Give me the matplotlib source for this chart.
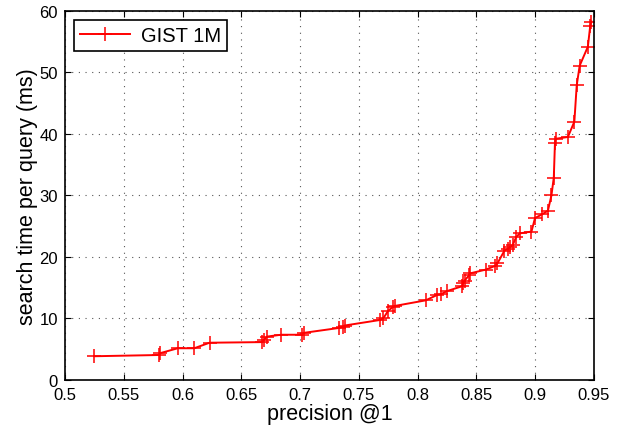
import matplotlib
matplotlib.use("Agg")
import matplotlib.pyplot as plt

plt.rcParams['font.family'] = ['Liberation Sans', 'DejaVu Sans']

precision = [0.525, 0.580, 0.581, 0.596, 0.610, 0.623, 0.668, 0.669, 0.672, 0.684,
             0.702, 0.703, 0.733, 0.737, 0.738, 0.768, 0.771, 0.775, 0.779, 0.781,
             0.807, 0.817, 0.820, 0.825, 0.838, 0.839, 0.840, 0.844, 0.845, 0.858,
             0.866, 0.868, 0.874, 0.877, 0.879, 0.881, 0.884, 0.887, 0.897, 0.900,
             0.906, 0.911, 0.914, 0.916, 0.917, 0.9175, 0.928, 0.9335, 0.9355, 0.938,
             0.945, 0.947, 0.948]
search_time = [3.8, 4.0, 4.3, 5.1, 5.1, 6.0, 6.1, 6.4, 7.0, 7.3,
               7.3, 7.6, 8.4, 8.6, 8.8, 9.7, 10.0, 11.2, 11.8, 12.0,
               12.9, 13.8, 13.9, 14.4, 15.2, 15.8, 16.1, 17.0, 17.3, 17.9,
               18.5, 18.9, 21.0, 21.3, 21.6, 21.9, 23.2, 23.8, 24.1, 26.3,
               26.9, 27.5, 30.0, 32.9, 38.6, 39.2, 39.5, 42.0, 47.9, 51.1,
               54.2, 57.6, 58.3]
series_label = "GIST 1M"
xticks = [0.5, 0.55, 0.6, 0.65, 0.7, 0.75, 0.8, 0.85, 0.9, 0.95]
xticklabels = ["0.5", "0.55", "0.6", "0.65", "0.7", "0.75", "0.8", "0.85", "0.9", "0.95"]
yticks = [0, 10, 20, 30, 40, 50, 60]

fig = plt.figure(figsize=(6.25, 4.31), dpi=100)
ax = fig.add_axes([0.104, 0.117, 0.846, 0.855])

ax.plot(precision, search_time, color='red', linewidth=1.4, marker='+',
        markersize=10, markeredgewidth=1.1, label=series_label)

ax.set_xlim(0.5, 0.95)
ax.set_ylim(0, 60)
ax.set_xticks(xticks)
ax.set_xticklabels(xticklabels)
ax.set_yticks(yticks)
ax.tick_params(direction='in', length=4, width=0.8, labelsize=12, top=True, right=True, pad=5)
ax.grid(True, linestyle=(0, (1, 5)), color='#555555', linewidth=0.8)
for s in ax.spines.values():
    s.set_linewidth(1.2)

ax.set_xlabel("precision @1", fontsize=15.5, labelpad=1)
ax.set_ylabel("search time per query (ms)", fontsize=15.5, labelpad=1)

leg = ax.legend(loc='upper left', fontsize=14.5, fancybox=False, framealpha=1,
                edgecolor='black', handlelength=2.5, handletextpad=0.5,
                borderpad=0.3, borderaxespad=0.45)
leg.get_frame().set_linewidth(1.2)

fig.savefig("out.png", dpi=100)
